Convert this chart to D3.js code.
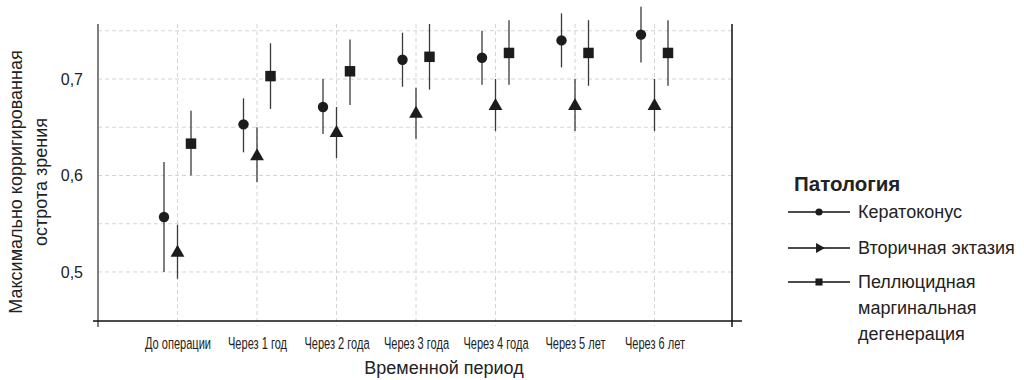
<html>
<head>
<meta charset="utf-8">
<style>
    body { margin: 0; background: #fff; }
    svg text { font-family: "Liberation Sans", Arial, sans-serif; fill: #222; }
</style>
</head>
<body>
<svg id="chart" width="1024" height="380"></svg>
<script src="https://d3js.org/d3.v7.min.js" charset="utf-8"></script>
<script>
    // categories (time points) and groups
    const categories = ["До операции", "Через 1 год", "Через 2 года", "Через 3 года",
                        "Через 4 года", "Через 5 лет", "Через 6 лет"]
    const seriesNames = ["Кератоконус", "Вторичная эктазия", "Пеллюцидная маргинальная дегенерация"]

    // Кератоконус
    const keratoconus     = [0.557, 0.653, 0.671, 0.720, 0.722, 0.740, 0.746]
    const keratoconusLow  = [0.500, 0.624, 0.643, 0.692, 0.694, 0.712, 0.717]
    const keratoconusHigh = [0.614, 0.680, 0.700, 0.748, 0.750, 0.768, 0.775]

    // Вторичная эктазия
    const ectasia     = [0.520, 0.620, 0.644, 0.664, 0.672, 0.672, 0.672]
    const ectasiaLow  = [0.493, 0.593, 0.618, 0.638, 0.646, 0.646, 0.646]
    const ectasiaHigh = [0.549, 0.650, 0.671, 0.691, 0.700, 0.700, 0.700]

    // Пеллюцидная маргинальная дегенерация
    const pmd     = [0.633, 0.703, 0.708, 0.723, 0.727, 0.727, 0.727]
    const pmdLow  = [0.600, 0.669, 0.673, 0.689, 0.694, 0.693, 0.693]
    const pmdHigh = [0.667, 0.737, 0.741, 0.757, 0.761, 0.761, 0.761]

    const yTicks = [0.5, 0.6, 0.7]
    const yTickLabels = ["0,5", "0,6", "0,7"]
    const yGrid = [0.5, 0.55, 0.6, 0.65, 0.7, 0.75]

    const svg = d3.select("#chart")
    const mLeft = 98, mRight = 732, mTop = 24, mBottom = 321

    let x = d3.scalePoint().domain(categories).range([mLeft, mRight + 2]).padding(1)
    let y = d3.scaleLinear().domain([0.4492, 0.757]).range([mBottom, mTop])

    // grid
    let grid = svg.append("g")
    grid.selectAll("line.h").data(yGrid).enter().append("line")
        .attr("x1", mLeft).attr("x2", mRight + 3)
        .attr("y1", d => y(d)).attr("y2", d => y(d))
        .style("stroke", "#d4d4d4").style("stroke-dasharray", "4,3")
    grid.selectAll("line.v").data(categories).enter().append("line")
        .attr("x1", d => x(d)).attr("x2", d => x(d))
        .attr("y1", mTop).attr("y2", mBottom + 5)
        .style("stroke", "#d4d4d4").style("stroke-dasharray", "4,3")

    // frame
    svg.append("line").attr("x1", mLeft).attr("x2", mLeft).attr("y1", mTop).attr("y2", mBottom + 6)
        .style("stroke", "#808080").style("stroke-width", 2)
    svg.append("line").attr("x1", mRight).attr("x2", mRight).attr("y1", mTop).attr("y2", mBottom + 6)
        .style("stroke", "#111").style("stroke-width", 1.5)
    svg.append("line").attr("x1", mLeft - 5).attr("x2", mRight + 10).attr("y1", mBottom).attr("y2", mBottom)
        .style("stroke", "#111").style("stroke-width", 1.5)

    // axes (labels only)
    let xAxis = d3.axisBottom(x).tickSize(0).tickPadding(16)
    let gx = svg.append("g").attr("transform", `translate(0,${mBottom})`).call(xAxis)
    gx.select(".domain").remove()
    gx.selectAll("text").style("font-size", "17px").style("font-family", "\"Liberation Sans\", Arial")
        .attr("transform", "scale(0.65,1)").attr("fill", "#222")

    let yAxis = d3.axisLeft(y).tickValues(yTicks).tickFormat((d, i) => yTickLabels[i]).tickSize(0).tickPadding(15)
    let gy = svg.append("g").attr("transform", `translate(${mLeft},0)`).call(yAxis)
    gy.select(".domain").remove()
    gy.selectAll("text").style("font-size", "16px").attr("fill", "#222")

    // data table
    const groups = [
        { name: seriesNames[0], mean: keratoconus, low: keratoconusLow, high: keratoconusHigh, shape: d3.symbolCircle, size: 85, dx: -13.5 },
        { name: seriesNames[1], mean: ectasia, low: ectasiaLow, high: ectasiaHigh, shape: d3.symbolTriangle, size: 82, dx: 0 },
        { name: seriesNames[2], mean: pmd, low: pmdLow, high: pmdHigh, shape: d3.symbolSquare, size: 110, dx: 13.5 }
    ]

    groups.forEach(g => {
        let pts = categories.map((c, i) => ({ c: c, m: g.mean[i], lo: g.low[i], hi: g.high[i] }))
        let layer = svg.append("g")
        layer.selectAll("line").data(pts).enter().append("line")
            .attr("x1", d => x(d.c) + g.dx).attr("x2", d => x(d.c) + g.dx)
            .attr("y1", d => y(d.lo)).attr("y2", d => y(d.hi))
            .style("stroke", "#3a3a3a").style("stroke-width", 1.3)
        layer.selectAll("path").data(pts).enter().append("path")
            .attr("d", d3.symbol().type(g.shape).size(g.size))
            .attr("transform", d => `translate(${x(d.c) + g.dx},${y(d.m)})`)
            .style("fill", "#1c1c1c")
    })

    // axis titles
    svg.append("text").attr("x", 444).attr("y", 374).attr("text-anchor", "middle")
        .style("font-size", "18px").text("Временной период")
    let yt = svg.append("text").attr("transform", "translate(22,182) rotate(-90)")
        .attr("text-anchor", "middle").style("font-size", "18px")
    yt.append("tspan").attr("x", 0).attr("y", 0).text("Максимально корригированная")
    yt.append("tspan").attr("x", 0).attr("y", 25).text("острота зрения")

    // legend
    let legend = svg.append("g")
    legend.append("text").attr("x", 794).attr("y", 191).style("font-size", "20.5px")
        .style("font-weight", "bold").text("Патология")
    const legendY = [212, 248, 282]
    const legendMarks = [
        { shape: d3.symbolCircle, size: 40, rot: 0 },
        { shape: d3.symbolTriangle, size: 45, rot: 90 },
        { shape: d3.symbolSquare, size: 50, rot: 0 }
    ]
    groups.forEach((g, i) => {
        let row = legend.append("g").attr("transform", `translate(0,${legendY[i]})`)
        row.append("line").attr("x1", 788).attr("x2", 850).attr("y1", 0).attr("y2", 0)
            .style("stroke", "#111").style("stroke-width", 1.3)
        row.append("path").attr("d", d3.symbol().type(legendMarks[i].shape).size(legendMarks[i].size))
            .attr("transform", `translate(819,0) rotate(${legendMarks[i].rot})`).style("fill", "#1c1c1c")
    })
    legend.append("text").attr("x", 858).attr("y", legendY[0] + 6).style("font-size", "18px").text(seriesNames[0])
    legend.append("text").attr("x", 858).attr("y", legendY[1] + 6).style("font-size", "18px").text(seriesNames[1])
    let t3 = legend.append("text").attr("x", 858).attr("y", legendY[2] + 6).style("font-size", "18px")
    t3.append("tspan").attr("x", 858).attr("dy", 0).text("Пеллюцидная")
    t3.append("tspan").attr("x", 858).attr("dy", 26).text("маргинальная")
    t3.append("tspan").attr("x", 858).attr("dy", 26).text("дегенерация")
</script>
</body>
</html>
